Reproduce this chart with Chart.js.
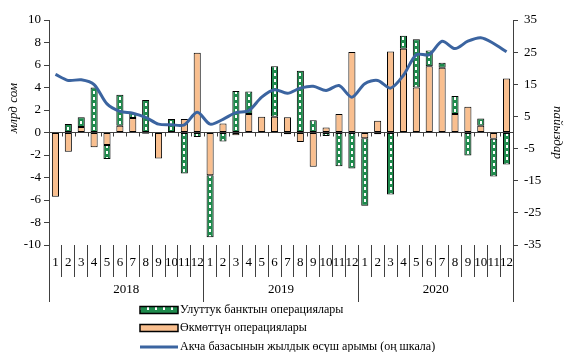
<!DOCTYPE html>
<html>
<head>
<meta charset="utf-8">
<script src="https://cdn.jsdelivr.net/npm/chart.js@4/dist/chart.umd.min.js"></script>
<style>
  html, body { margin: 0; padding: 0; background: #fff; }
  #wrap { width: 565px; height: 352px; }
</style>
</head>
<body>
<div id="wrap"><canvas id="c" width="565" height="352"></canvas></div>
<script>
// Month labels (three years, 12 months each)
const monthLabels = ['1','2','3','4','5','6','7','8','9','10','11','12',
                     '1','2','3','4','5','6','7','8','9','10','11','12',
                     '1','2','3','4','5','6','7','8','9','10','11','12'];
const yearLabels = ['2018', '2019', '2020'];

// Government operations, bn som
const govOps = [-5.7, -1.7, 0.5, -1.3, -1.1, 0.6, 1.3, -0.1, -2.3, 0.0, 1.2, 7.1,
                -3.8, 0.8, -0.25, 1.65, 1.4, 1.4, 1.35, -0.85, -3.05, 0.45, 1.65, 7.15,
                -0.5, 1.05, 7.2, 7.45, 4.0, 5.9, 5.75, 1.65, 2.3, 0.6, -0.55, 4.8];

// National Bank operations, bn som
const nbkrOps = [0.0, 0.75, 0.85, 4.0, -1.25, 2.75, 0.45, 2.9, 0.0, 1.2, -3.65, -0.4,
                 -5.5, -0.8, 3.7, 2.0, 0.0, 4.5, -0.15, 5.5, 1.1, -0.3, -3.0, -3.2,
                 -6.0, -0.15, -5.5, 1.15, 4.3, 1.4, 0.45, 1.6, -2.05, 0.65, -3.35, -2.85];

// Annual growth of the monetary base, % (right scale)
const baseGrowth = [18.1, 16.2, 16.4, 14.9, 8.9, 6.6, 6.0, 4.7, 2.6, 2.4, 2.4, 6.3,
                    2.6, 4.1, 6.2, 6.8, 11.0, 13.3, 12.2, 13.8, 14.4, 13.1, 14.6, 11.0,
                    15.2, 16.2, 13.8, 17.8, 24.2, 24.2, 28.4, 26.1, 28.4, 29.5, 27.7, 25.1];

const seriesNames = ['Улуттук банктын операциялары',
                     'Өкмөттүн операциялары',
                     'Акча базасынын жылдык өсүш арымы (оң шкала)'];

const FONT = 'Liberation Serif';
const AXIS = '#404040';
const ORANGE = '#F9BF8F';
const GREEN = '#1E8A4C';
const BLUE = '#3B64A0';

Chart.defaults.font.family = FONT;
Chart.defaults.color = '#000';

// Green tile with a short white dash in its middle
const tile = document.createElement('canvas');
tile.width = 8; tile.height = 6;
(function () {
  const g = tile.getContext('2d');
  g.fillStyle = GREEN;
  g.fillRect(0, 0, 8, 6);
  g.fillStyle = '#ffffff';
  g.fillRect(3, 1, 2, 3);
})();
const basePattern = document.getElementById('c').getContext('2d').createPattern(tile, 'repeat');

// Pattern shifted so the dashes run down the centre of each bar
function greenFill(ctx) {
  if (ctx.type !== 'data' || !ctx.chart.scales || !ctx.chart.scales.x) return basePattern;
  const cx = ctx.chart.scales.x.getPixelForValue(ctx.dataIndex);
  const p = ctx.chart.ctx.createPattern(tile, 'repeat');
  p.setTransform(new DOMMatrix().translate(Math.round(cx) - 4, 0));
  return p;
}

// Small tick marks along the zero line at each month boundary
const zeroTicks = {
  id: 'zeroTicks',
  afterDatasetsDraw(chart) {
    const { ctx, chartArea } = chart;
    const y0 = chart.scales.y.getPixelForValue(0);
    const n = monthLabels.length;
    const w = (chartArea.right - chartArea.left) / n;
    ctx.save();
    ctx.strokeStyle = AXIS;
    ctx.lineWidth = 1;
    ctx.beginPath();
    for (let i = 1; i < n; i++) {
      const x = Math.round(chartArea.left + i * w) + 0.5;
      ctx.moveTo(x, y0);
      ctx.lineTo(x, y0 + 4);
    }
    ctx.stroke();
    ctx.restore();
  }
};

// Left axis caption and the legend below the chart
const extras = {
  id: 'extras',
  afterDraw(chart) {
    const { ctx } = chart;
    ctx.save();
    ctx.font = 'italic 13px "' + FONT + '"';
    ctx.fillStyle = '#000';
    ctx.textAlign = 'center';
    ctx.textBaseline = 'middle';
    ctx.translate(14, 108);
    ctx.rotate(-Math.PI / 2);
    ctx.fillText('млрд сом', 0, 0);
    ctx.restore();

    const x0 = 140, bw = 38, bh = 7;
    const rows = [310, 328, 347];
    ctx.save();
    ctx.font = '12px "' + FONT + '"';
    ctx.textBaseline = 'middle';
    ctx.textAlign = 'left';
    // NBKR
    ctx.fillStyle = basePattern;
    ctx.fillRect(x0, rows[0] - bh / 2, bw, bh);
    ctx.strokeStyle = '#000';
    ctx.lineWidth = 1.5;
    ctx.strokeRect(x0, rows[0] - bh / 2, bw, bh);
    // Government
    ctx.fillStyle = ORANGE;
    ctx.fillRect(x0, rows[1] - bh / 2, bw, bh);
    ctx.strokeRect(x0, rows[1] - bh / 2, bw, bh);
    // Growth line
    ctx.strokeStyle = BLUE;
    ctx.lineWidth = 3;
    ctx.beginPath();
    ctx.moveTo(x0, rows[2]);
    ctx.lineTo(x0 + bw, rows[2]);
    ctx.stroke();
    ctx.fillStyle = '#000';
    rows.forEach((y, i) => ctx.fillText(seriesNames[i], x0 + bw + 2, y));
    ctx.restore();
  }
};

new Chart(document.getElementById('c'), {
  data: {
    labels: monthLabels,
    datasets: [
      {
        type: 'line',
        label: seriesNames[2],
        data: baseGrowth,
        yAxisID: 'y2',
        xAxisID: 'x',
        borderColor: BLUE,
        borderWidth: 3,
        pointRadius: 0,
        tension: 0.3,
        fill: false,
        order: 0
      },
      {
        type: 'bar',
        label: seriesNames[1],
        data: govOps,
        yAxisID: 'y',
        xAxisID: 'x',
        backgroundColor: ORANGE,
        borderColor: '#000',
        borderWidth: 1,
        borderSkipped: false,
        barPercentage: 0.55,
        categoryPercentage: 1,
        stack: 'ops',
        order: 1
      },
      {
        type: 'bar',
        label: seriesNames[0],
        data: nbkrOps,
        yAxisID: 'y',
        xAxisID: 'x',
        backgroundColor: greenFill,
        borderColor: '#000',
        borderWidth: 1,
        borderSkipped: false,
        barPercentage: 0.55,
        categoryPercentage: 1,
        stack: 'ops',
        order: 1
      }
    ]
  },
  options: {
    responsive: false,
    animation: false,
    devicePixelRatio: 1,
    layout: { padding: { top: 20, bottom: 50, left: 0, right: 0 } },
    plugins: {
      legend: { display: false },
      tooltip: { enabled: false }
    },
    scales: {
      x: {
        type: 'category',
        position: 'bottom',
        stacked: true,
        offset: true,
        weight: 0,
        border: { display: false },
        grid: {
          offset: true,
          drawOnChartArea: false,
          drawTicks: true,
          tickLength: 32,
          color: AXIS,
          lineWidth: 1
        },
        ticks: {
          autoSkip: false,
          maxRotation: 0,
          padding: -22,
          font: { size: 13 },
          color: '#000'
        },
        afterFit(s) { s.height = 32; }
      },
      xYear: {
        type: 'linear',
        position: 'bottom',
        min: 0,
        max: 36,
        weight: 1,
        border: { display: false },
        grid: {
          drawOnChartArea: false,
          drawTicks: true,
          tickLength: 25,
          lineWidth: 1,
          color: ctx => (ctx.tick && ctx.tick.value % 12 === 0) ? AXIS : 'rgba(0,0,0,0)'
        },
        ticks: {
          stepSize: 6,
          autoSkip: false,
          maxRotation: 0,
          padding: -20,
          font: { size: 13 },
          color: '#000',
          callback: v => (v % 12 === 6) ? yearLabels[(v - 6) / 12] : ''
        },
        afterFit(s) { s.height = 25; }
      },
      y: {
        position: 'left',
        stacked: true,
        min: -10,
        max: 10,
        border: { display: true, color: AXIS, width: 1 },
        grid: {
          drawOnChartArea: true,
          drawTicks: true,
          tickLength: 5,
          tickColor: AXIS,
          color: ctx => (ctx.tick && ctx.tick.value === 0) ? AXIS : 'rgba(0,0,0,0)'
        },
        ticks: { stepSize: 2, padding: 3, font: { size: 13 }, color: '#000' },
        afterFit(s) { s.width = 49; }
      },
      y2: {
        position: 'right',
        min: -35,
        max: 35,
        border: { display: true, color: AXIS, width: 1 },
        grid: {
          drawOnChartArea: false,
          drawTicks: true,
          tickLength: 5,
          color: AXIS
        },
        ticks: { stepSize: 10, padding: 6, font: { size: 13 }, color: '#000' },
        title: {
          display: true,
          text: 'пайыздар',
          font: { size: 13, style: 'italic' },
          color: '#000',
          padding: { top: 0, bottom: 2 }
        },
        afterFit(s) { s.width = 52; }
      }
    }
  },
  plugins: [zeroTicks, extras]
});
</script>
</body>
</html>
